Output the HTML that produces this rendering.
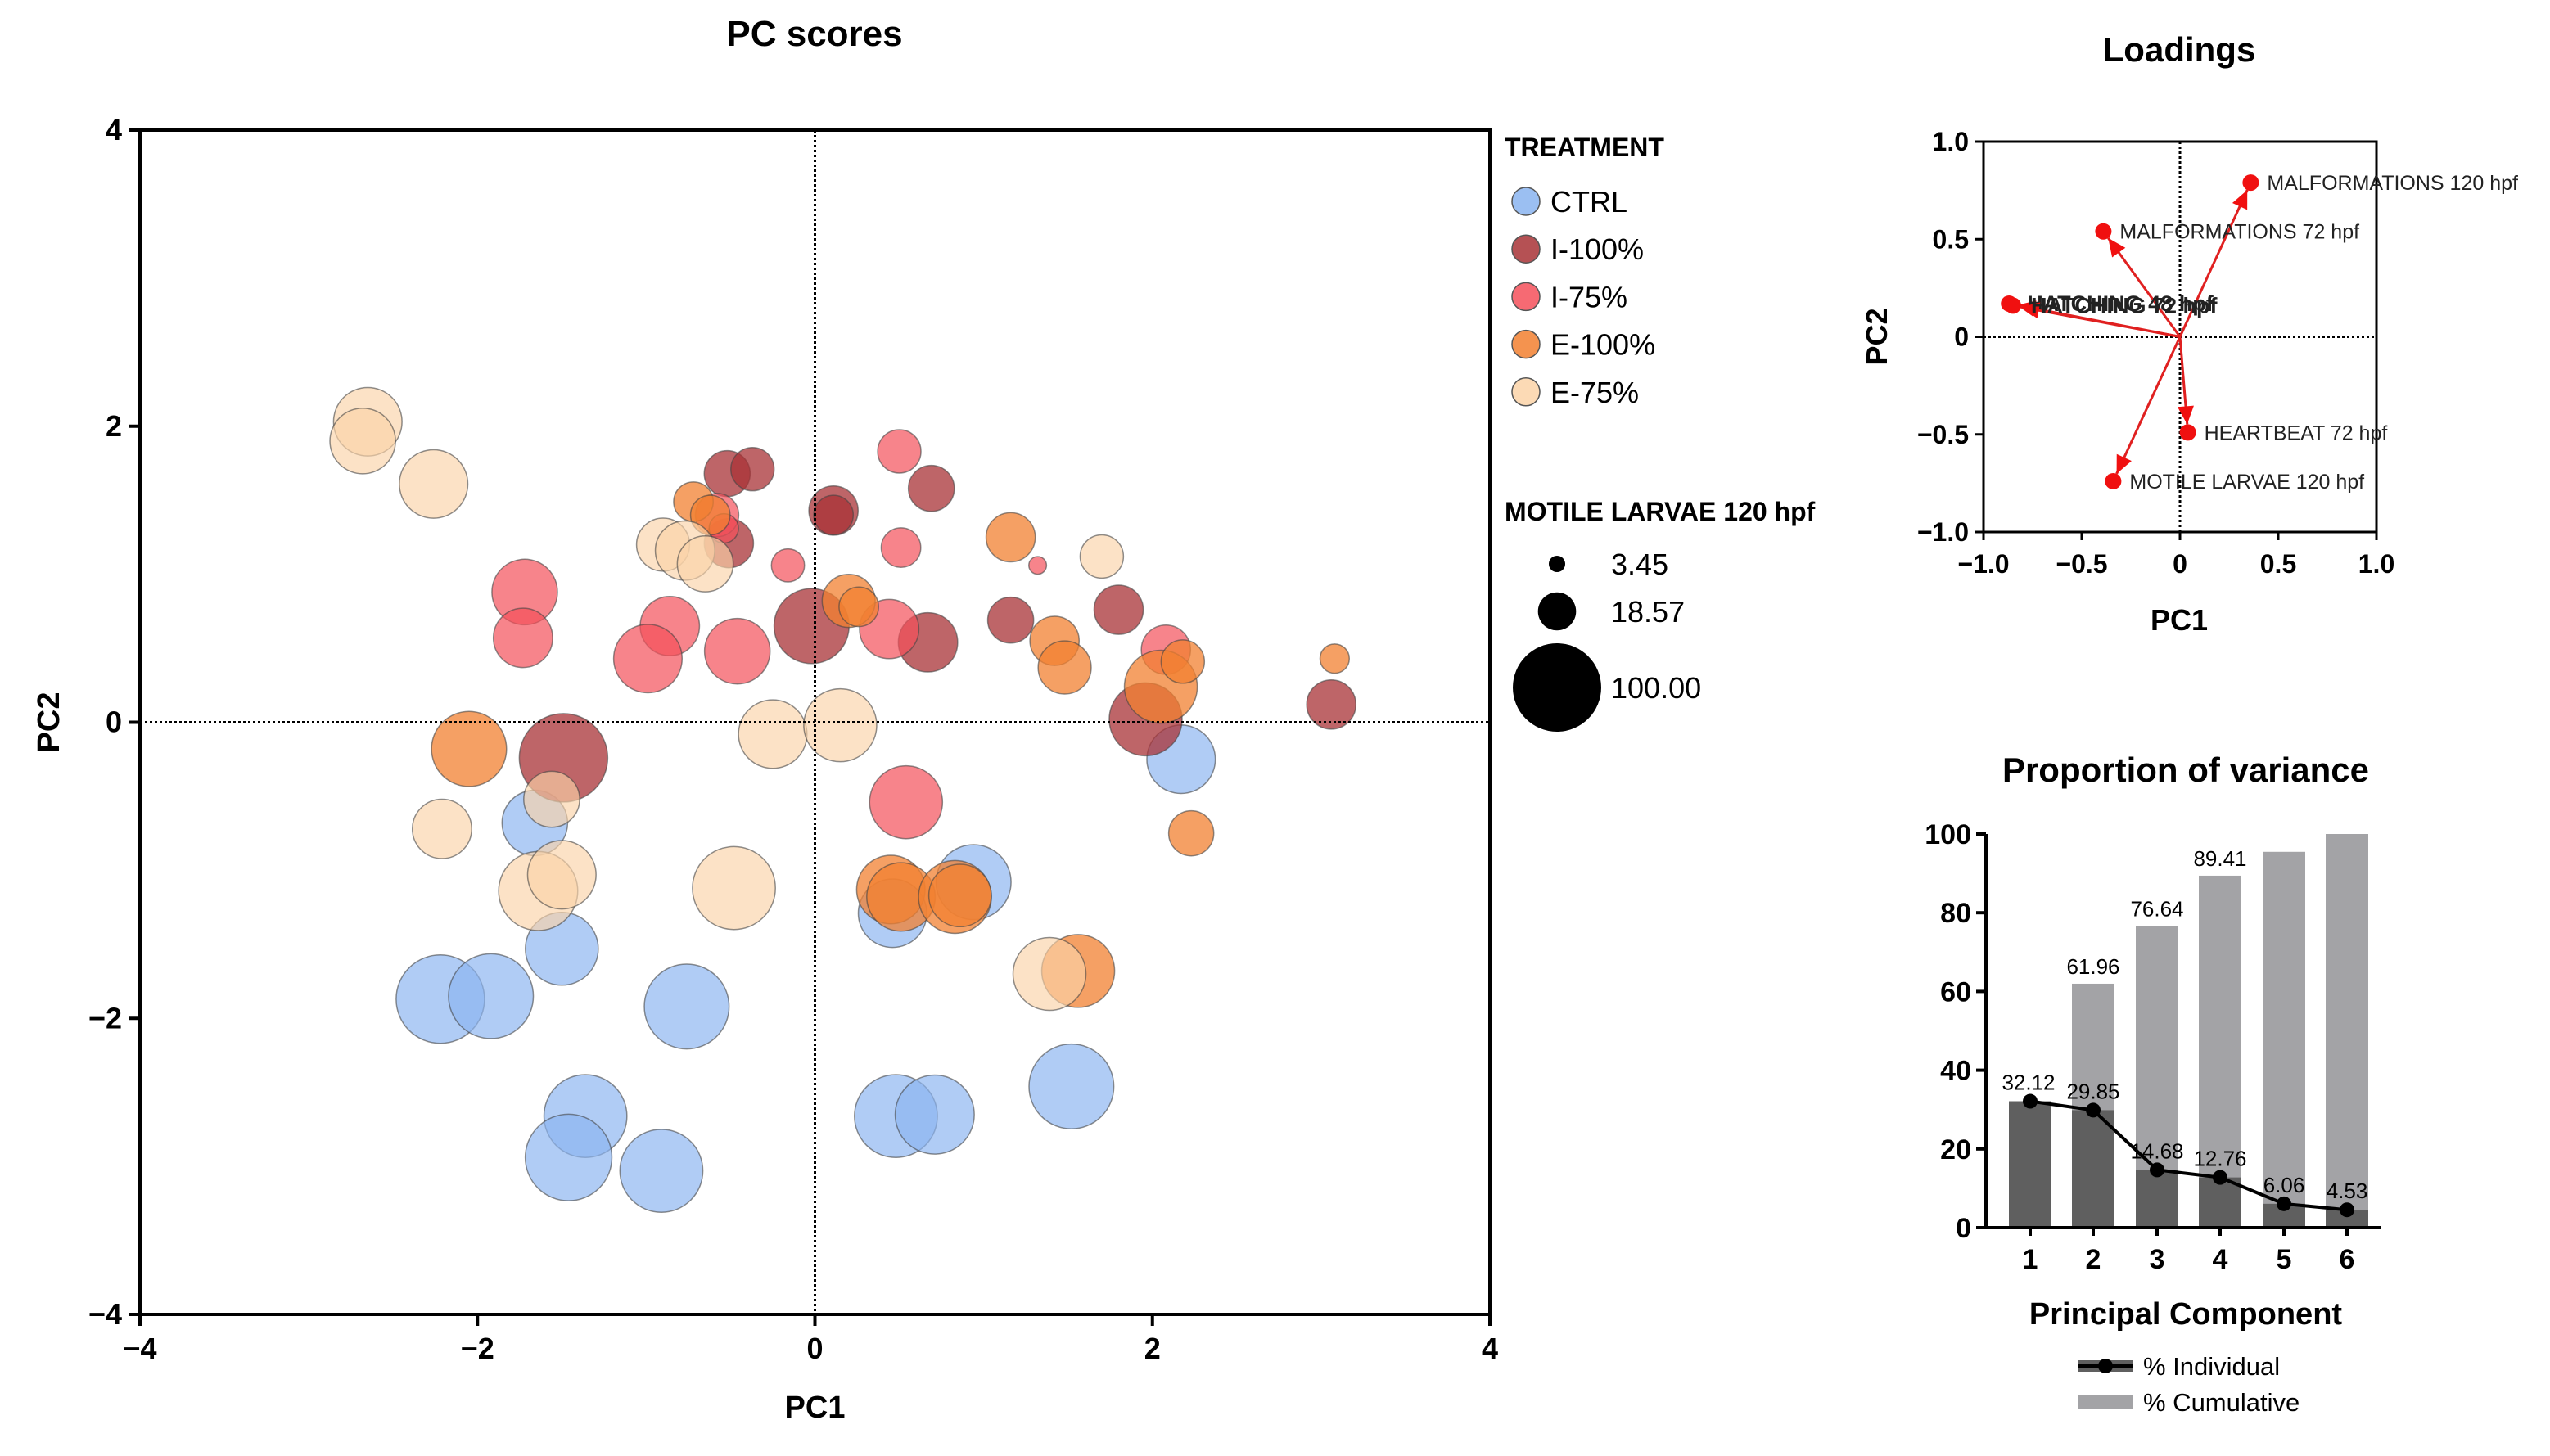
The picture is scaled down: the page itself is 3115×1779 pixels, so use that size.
<!DOCTYPE html>
<html><head><meta charset="utf-8"><style>
html,body{margin:0;padding:0;background:#fff;}
svg{display:block;font-family:"Liberation Sans",Arial,sans-serif;}
</style></head><body>
<svg id="s" width="3115" height="1779" viewBox="0 0 3115 1779"></svg>
<script>
// ---------- PC scores data ----------
const groups=["CTRL","I-100%","I-75%","E-100%","E-75%"];
const groupColors=["#8ab4f0","#a83236","#f4505a","#f28030","#fbd3a8"];
const ctrlX=[-1.66,2.17,-1.5,-2.22,-1.92,-0.76,0.94,0.46,-1.36,-1.46,-0.91,0.48,0.71,1.52];
const ctrlY=[-0.68,-0.25,-1.53,-1.87,-1.85,-1.92,-1.08,-1.29,-2.66,-2.94,-3.03,-2.66,-2.65,-2.46];
const ctrlS=[55,60,68,100,92,92,72,60,88,96,88,88,80,92];
const i100X=[-0.52,-0.37,-0.51,0.11,0.11,0.69,-0.02,0.67,1.16,1.8,1.96,3.06,-1.49];
const i100Y=[1.68,1.71,1.21,1.43,1.40,1.58,0.65,0.54,0.69,0.76,0.02,0.12,-0.24];
const i100S=[27,24,31,31,20,27,72,45,27,31,68,31,100];
const i75X=[0.5,0.51,-0.16,1.32,-1.72,-1.73,-0.86,-0.99,-0.46,0.44,0.54,2.08,-0.58,-0.54];
const i75Y=[1.83,1.18,1.06,1.06,0.88,0.57,0.65,0.43,0.48,0.63,-0.54,0.49,1.4,1.31];
const i75S=[24,20,14,4,55,45,45,60,55,45,68,31,24,11];
const e100X=[-0.72,-2.05,0.2,0.26,1.16,1.42,1.48,2.05,2.18,3.08,2.23,0.45,0.51,0.83,0.86,1.56,-0.62];
const e100Y=[1.49,-0.18,0.82,0.78,1.25,0.55,0.37,0.24,0.41,0.43,-0.75,-1.13,-1.18,-1.18,-1.17,-1.68,1.4];
const e100S=[20,72,36,20,31,31,36,68,24,11,26,60,60,68,50,68,20];
const e75X=[-2.65,-2.68,-2.26,-0.9,-0.77,-0.65,-0.25,0.15,1.7,-1.56,-2.21,-1.64,-1.5,-0.48,1.39];
const e75Y=[2.03,1.9,1.61,1.2,1.16,1.07,-0.08,-0.02,1.12,-0.52,-0.72,-1.14,-1.03,-1.12,-1.7];
const e75S=[60,55,60,36,45,40,60,68,24,40,45,80,60,88,68];
const sizeLegend=[3.45,18.57,100];
const scoreTicks=[-4,-2,0,2,4];
// ---------- Loadings ----------
const loadNames=["MALFORMATIONS 120 hpf","MALFORMATIONS 72 hpf","HATCHING 48 hpf","HATCHING 72 hpf","HEARTBEAT 72 hpf","MOTILE LARVAE 120 hpf"];
const loadX=[0.36,-0.39,-0.87,-0.85,0.04,-0.34];
const loadY=[0.79,0.54,0.17,0.16,-0.49,-0.74];
const loadTicks=[-1,-0.5,0,0.5,1];
const loadTickLabels=["\u22121.0","\u22120.5","0","0.5","1.0"];
// ---------- Variance ----------
const pcs=["1","2","3","4","5","6"];
const individual=[32.12,29.85,14.68,12.76,6.06,4.53];
const cumulative=[32.12,61.96,76.64,89.41,95.47,100];
const cumLabels=["","61.96","76.64","89.41","",""];
const varTicks=[0,20,40,60,80,100];

const S=document.getElementById('s');const NS="http://www.w3.org/2000/svg";
function el(t,a,p){const e=document.createElementNS(NS,t);for(const k in a)e.setAttribute(k,a[k]);(p||S).appendChild(e);return e;}
function txt(x,y,s,size,opt){opt=opt||{};const e=el('text',{x:x,y:y,'font-size':size,'font-weight':opt.w||'normal','text-anchor':opt.a||'start',fill:opt.f||'#000'},opt.p);if(opt.t)e.setAttribute('transform',opt.t);e.textContent=s;return e;}

// ===== PC scores =====
const L=171,R=1820,T=159,B=1606;
const sx=v=>L+(v+4)/8*(R-L), sy=v=>B-(v+4)/8*(B-T);
const rad=v=>5.4*Math.sqrt(v);
let t=txt(995,56,"PC scores",44,{w:'bold',a:'middle'});

const pts=el('g',{});

const sets=[[ctrlX,ctrlY,ctrlS],[i100X,i100Y,i100S],[i75X,i75Y,i75S],[e100X,e100Y,e100S],[e75X,e75Y,e75S]];
const alphas=[0.68,0.75,0.7,0.75,0.65];
sets.forEach((st,g)=>{st[0].forEach((x,i)=>{
  const c=el('circle',{cx:sx(x),cy:sy(st[1][i]),r:rad(st[2][i]),fill:groupColors[g],'fill-opacity':alphas[g],stroke:'#444','stroke-opacity':0.6,'stroke-width':1.5},pts);
  
  
});});
el('line',{x1:sx(0),y1:T,x2:sx(0),y2:B,stroke:'#000','stroke-width':3,'stroke-dasharray':'3,3'});
el('line',{x1:L,y1:sy(0),x2:R,y2:sy(0),stroke:'#000','stroke-width':3,'stroke-dasharray':'3,3'});
const ax=el('g',{});
el('rect',{x:L,y:T,width:R-L,height:B-T,fill:'none',stroke:'#000','stroke-width':4},ax);
scoreTicks.forEach(v=>{
  el('line',{x1:sx(v),y1:B,x2:sx(v),y2:B+14,stroke:'#000','stroke-width':4},ax);
  el('line',{x1:L-14,y1:sy(v),x2:L,y2:sy(v),stroke:'#000','stroke-width':4},ax);
  const lab=v<0?"\u2212"+(-v):String(v);
  txt(sx(v),B+54,lab,36,{w:'bold',a:'middle',p:ax});
  txt(L-22,sy(v)+12,lab,36,{w:'bold',a:'end',p:ax});
});
t=txt(sx(0),1732,"PC1",38,{w:'bold',a:'middle'});
t=txt(72,sy(0),"PC2",38,{w:'bold',a:'middle',t:'rotate(-90 72 '+sy(0)+')'});
// legend
const lg=el('g',{});
txt(1838,191,"TREATMENT",32,{w:'bold',p:lg});
groups.forEach((g,i)=>{const y=246+i*58.2;
  const e=el('g',{},lg);
  el('circle',{cx:1864,cy:y,r:17,fill:groupColors[i],'fill-opacity':0.85,stroke:'#555','stroke-width':1.5},e);
  txt(1894,y+13,g,36,{p:e});});
const sl=el('g',{});
txt(1838,636,"MOTILE LARVAE 120 hpf",32,{w:'bold',p:sl});
const sly=[689,747,840];
sizeLegend.forEach((v,i)=>{el('circle',{cx:1902,cy:sly[i],r:rad(v),fill:'#000'},sl);txt(1968,sly[i]+13,v.toFixed(2),36,{p:sl});});

// ===== Loadings =====
const LL=2423,LR=2903,LT=173,LB=650;
const lx=v=>LL+(v+1)/2*(LR-LL), ly=v=>LB-(v+1)/2*(LB-LT);
t=txt(2662,75,"Loadings",42,{w:'bold',a:'middle'});
el('line',{x1:lx(0),y1:LT,x2:lx(0),y2:LB,stroke:'#000','stroke-width':3,'stroke-dasharray':'3,3'});
el('line',{x1:LL,y1:ly(0),x2:LR,y2:ly(0),stroke:'#000','stroke-width':3,'stroke-dasharray':'3,3'});
const lax=el('g',{});
el('rect',{x:LL,y:LT,width:LR-LL,height:LB-LT,fill:'none',stroke:'#000','stroke-width':3},lax);
loadTicks.forEach((v,i)=>{
  el('line',{x1:lx(v),y1:LB,x2:lx(v),y2:LB+10,stroke:'#000','stroke-width':3},lax);
  el('line',{x1:LL-10,y1:ly(v),x2:LL,y2:ly(v),stroke:'#000','stroke-width':3},lax);
  txt(lx(v),LB+50,loadTickLabels[i],32,{w:'bold',a:'middle',p:lax});
  txt(LL-18,ly(v)+11,loadTickLabels[i],32,{w:'bold',a:'end',p:lax});
});
t=txt(2662,770,"PC1",36,{w:'bold',a:'middle'});
t=txt(2305,ly(0),"PC2",36,{w:'bold',a:'middle',t:'rotate(-90 2305 '+ly(0)+')'});
loadNames.forEach((n,i)=>{
  const g=el('g',{});
  const x0=lx(0),y0=ly(0),x1=lx(loadX[i]),y1=ly(loadY[i]);
  const dx=x1-x0,dy=y1-y0,len=Math.hypot(dx,dy),ux=dx/len,uy=dy/len;
  const hx=x1-ux*10,hy=y1-uy*10;
  el('line',{x1:x0,y1:y0,x2:hx,y2:hy,stroke:'#e02020','stroke-width':3},g);
  el('polygon',{points:`${hx},${hy} ${hx-ux*22-uy*10},${hy-uy*22+ux*10} ${hx-ux*22+uy*10},${hy-uy*22-ux*10}`,fill:'#f01010'},g);
  el('circle',{cx:x1,cy:y1,r:10,fill:'#f01010'},g);
  txt(x1+(i==2||i==3?22:20),y1+9,n,i==2||i==3?27:25,{p:g,w:(i==2||i==3)?'bold':'normal',f:'#222'});
});

// ===== Variance =====
const VL=2426,VR=2909,VT=1019,VB=1500;
const vy=v=>VB-v/100*(VB-VT);
const centers=[2480,2557,2635,2712,2790,2867];
const bw=52;
t=txt(2670,955,"Proportion of variance",42,{w:'bold',a:'middle'});
pcs.forEach((p,i)=>{const cx=centers[i];
  let b=el('rect',{x:cx-bw/2,y:vy(cumulative[i]),width:bw,height:VB-vy(cumulative[i]),fill:'#a3a3a6'});
  
  b=el('rect',{x:cx-bw/2,y:vy(individual[i]),width:bw,height:VB-vy(individual[i]),fill:'#5f5f5f'});
  
  if(cumLabels[i])txt(cx,vy(cumulative[i])-12,cumLabels[i],26,{a:'middle'});
});
let pd='';individual.forEach((v,i)=>{pd+=(i?'L':'M')+centers[i]+','+vy(v);});
const ln=el('path',{d:pd,fill:'none',stroke:'#000','stroke-width':4});
individual.forEach((v,i)=>{const c=el('circle',{cx:centers[i],cy:vy(v),r:9,fill:'#000'});
  
  txt(centers[i]+(i==0?-2:0),vy(v)-14,v.toFixed(2),26,{a:'middle'});});
const vax=el('g',{});
el('line',{x1:VL,y1:VT,x2:VL,y2:VB,stroke:'#000','stroke-width':4},vax);
el('line',{x1:VL,y1:VB,x2:VR,y2:VB,stroke:'#000','stroke-width':4},vax);
varTicks.forEach(v=>{el('line',{x1:VL-12,y1:vy(v),x2:VL,y2:vy(v),stroke:'#000','stroke-width':4},vax);
  txt(VL-18,vy(v)+12,String(v),34,{w:'bold',a:'end',p:vax});});
pcs.forEach((p,i)=>{el('line',{x1:centers[i],y1:VB,x2:centers[i],y2:VB+10,stroke:'#000','stroke-width':4},vax);
  txt(centers[i],VB+50,p,34,{w:'bold',a:'middle',p:vax});});
t=txt(2670,1618,"Principal Component",38,{w:'bold',a:'middle'});
const vl=el('g',{});
el('rect',{x:2538,y:1662,width:68,height:14,fill:'#5f5f5f'},vl);
el('line',{x1:2538,y1:1669,x2:2606,y2:1669,stroke:'#000','stroke-width':4},vl);
el('circle',{cx:2572,cy:1669,r:9,fill:'#000'},vl);
txt(2618,1680,"% Individual",31,{p:vl});
el('rect',{x:2538,y:1705,width:68,height:16,fill:'#a3a3a6'},vl);
txt(2618,1724,"% Cumulative",31,{p:vl});
</script>
</body></html>
